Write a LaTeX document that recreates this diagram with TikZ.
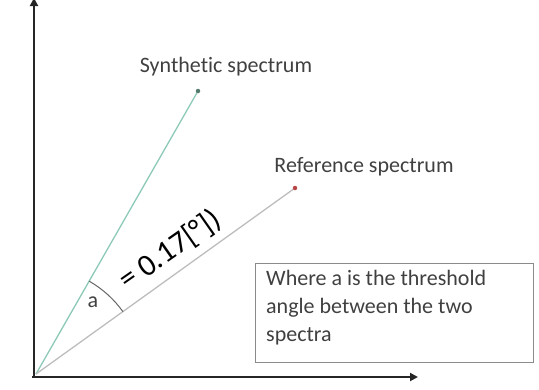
\documentclass[tikz,border=0pt]{standalone}
\usepackage{fontspec}
\setmainfont{Carlito}[Ligatures={NoCommon}]
\usetikzlibrary{angles,arrows.meta}
\definecolor{syncol}{HTML}{8CC9B8}
\definecolor{refcol}{HTML}{BDBDBD}
\definecolor{boxcol}{HTML}{8A8A8A}
\tikzset{
  axis/.style={line width=2.6pt, draw=black!85, -{Triangle[length=8pt,width=8pt]}},
  vec/.style={line width=1.3pt},
  lbl/.style={font=\fontsize{22}{26}\selectfont, text=black!75, inner sep=0pt},
  tip/.style={circle, inner sep=0pt, minimum size=4.5pt}
}
\begin{document}
\begin{tikzpicture}[x=1pt,y=-1pt]
\useasboundingbox (0,0) rectangle (539,389);
\coordinate (O) at (36,374);
\coordinate (Y) at (34,-2);
\coordinate (X) at (418,377);
\coordinate (S) at (198,91);
\coordinate (R) at (295,188);
\draw[axis] (34,377) -- (Y);
\draw[axis] (32,377) -- (X);
\draw[vec, syncol] (O) -- (S);
\draw[vec, refcol] (O) -- (R);
\node[tip, fill=syncol!60!black] at (S) {};
\node[tip, fill=red!45!gray] at (R) {};
\pic[draw=black!60, line width=1pt, angle radius=107pt] {angle=R--O--S};
\node[lbl] (syn) at (226,67) {Synthetic spectrum};
\node[lbl] (ref) at (364,167) {Reference spectrum};
\node[lbl] (a) at (93,302) {a};
\node[font=\fontsize{31}{34}\selectfont, rotate=35, inner sep=0pt] (val) at (170,250) {= 0.17[°])};
\node[draw=boxcol, line width=1.2pt, minimum width=278pt, minimum height=99pt, anchor=north west] (box) at (255,263) {};
\node[lbl, anchor=north west, align=left, font=\fontsize{22}{28}\selectfont] (boxtext) at (266,270) {Where a is the threshold\\angle between the two\\spectra};
\end{tikzpicture}
\end{document}
